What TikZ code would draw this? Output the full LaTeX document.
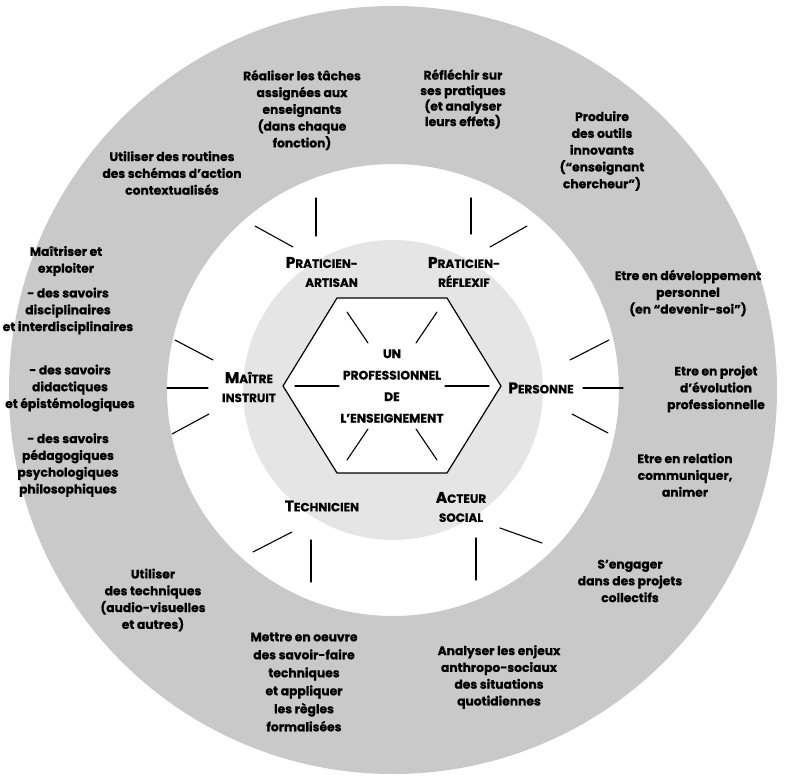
\documentclass[tikz,border=0pt]{standalone}
\usepackage{fontspec}
\setmainfont{Poppins}[BoldFeatures={FakeBold=0.8}]
\newcommand{\capbig}[1]{{\fontsize{15.5}{19}\selectfont #1}}
\newcommand{\capsm}[1]{{\fontsize{12}{19}\selectfont #1}}
\begin{document}
\begin{tikzpicture}[x=1pt,y=-1pt,
  outer/.style={font=\bfseries\fontsize{12.3}{16.8}\selectfont, align=center, inner sep=0pt},
  facet/.style={font=\bfseries\fontsize{12}{19}\selectfont, align=center, inner sep=0pt},
  ray/.style={line width=1.1pt, line cap=round},
  spoke/.style={line width=1.1pt, line cap=round}]
\useasboundingbox (0,0) rectangle (788,778);
% rings
\fill[gray!42, even odd rule] (393,390) circle (384) (393,390) circle (226);
\fill[gray!20] (393,390) circle (150);
% hexagon
\draw[line width=1.2pt, fill=white, line join=miter]
  (283,386) -- (337,298) -- (447,298) -- (501,386) -- (447,473) -- (337,473) -- cycle;
\draw[spoke] (347,312) -- (368,343);
\draw[spoke] (437,312) -- (416,343);
\draw[spoke] (295,386) -- (339,386);
\draw[spoke] (445,386) -- (489,386);
\draw[spoke] (368,429) -- (347,460);
\draw[spoke] (416,429) -- (437,460);
\node[font=\bfseries\fontsize{12.3}{21.5}\selectfont, align=center, inner sep=0pt] (centre) at (392,386)
  {UN\\PROFESSIONNEL\\DE\\L’ENSEIGNEMENT};
% facets
\node[facet, align=right, anchor=east] (artisan) at (358,272) {\capbig{P}\capsm{RATICIEN-}\\\capsm{ARTISAN}};
\node[facet] (reflexif) at (464,272) {\capbig{P}\capsm{RATICIEN-}\\\capsm{RÉFLEXIF}};
\node[facet] (maitre) at (249,387) {\capbig{M}\capsm{AÎTRE}\\\capsm{INSTRUIT}};
\node[facet] (personne) at (541,388) {\capbig{P}\capsm{ERSONNE}};
\node[facet] (technicien) at (322,506) {\capbig{T}\capsm{ECHNICIEN}};
\node[facet] (acteur) at (461,507) {\capbig{A}\capsm{CTEUR}\\\capsm{SOCIAL}};
% rays
\draw[ray] (255,226) -- (293,247);
\draw[ray] (316,198) -- (316,236);
\draw[ray] (471,198) -- (471,234);
\draw[ray] (490,247) -- (527,226);
\draw[ray] (570,360) -- (609,340);
\draw[ray] (583,388) -- (623,388);
\draw[ray] (572,414) -- (608,433);
\draw[ray] (175,340) -- (213,360);
\draw[ray] (167,388) -- (208,388);
\draw[ray] (172,434) -- (209,414);
\draw[ray] (253,552) -- (292,532);
\draw[ray] (311,540) -- (311,582);
\draw[ray] (476,538) -- (476,580);
\draw[ray] (500,528) -- (542,543);
% outer texts
\node[outer] (t1) at (302,110) {Réaliser les tâches\\assignées aux\\enseignants\\(dans chaque\\fonction)};
\node[outer, font=\bfseries\fontsize{12.3}{15.5}\selectfont] (t2) at (463,99) {Réfléchir sur\\ses pratiques\\(et analyser\\leurs effets)};
\node[outer] (t3) at (602,151) {Produire\\des outils\\innovants\\(“enseignant\\chercheur”)};
\node[outer] (t4) at (172,173) {Utiliser des routines\\des schémas d’action\\contextualisés};
\node[outer] (t5a) at (66,261) {Maîtriser et\\exploiter};
\node[outer] (t5b) at (68,311) {- des savoirs\\disciplinaires\\et interdisciplinaires};
\node[outer] (t5c) at (70,388) {- des savoirs\\didactiques\\et épistémologiques};
\node[outer] (t5d) at (68,465) {- des savoirs\\pédagogiques\\psychologiques\\philosophiques};
\node[outer] (t6) at (688,293) {Etre en développement\\personnel\\(en “devenir-soi”)};
\node[outer] (t7) at (716,389) {Etre en projet\\d’évolution\\professionnelle};
\node[outer] (t8) at (685,475) {Etre en relation\\communiquer,\\animer};
\node[outer] (t9) at (630,581) {S’engager\\dans des projets\\collectifs};
\node[outer] (t10) at (499,677) {Analyser les enjeux\\anthropo-sociaux\\des situations\\quotidiennes};
\node[outer, font=\bfseries\fontsize{12.3}{18}\selectfont] (t11) at (304,682) {Mettre en oeuvre\\des savoir-faire\\techniques\\et appliquer\\les règles\\formalisées};
\node[outer] (t12) at (153,600) {Utiliser\\des techniques\\(audio-visuelles\\et autres)};
\end{tikzpicture}
\end{document}
